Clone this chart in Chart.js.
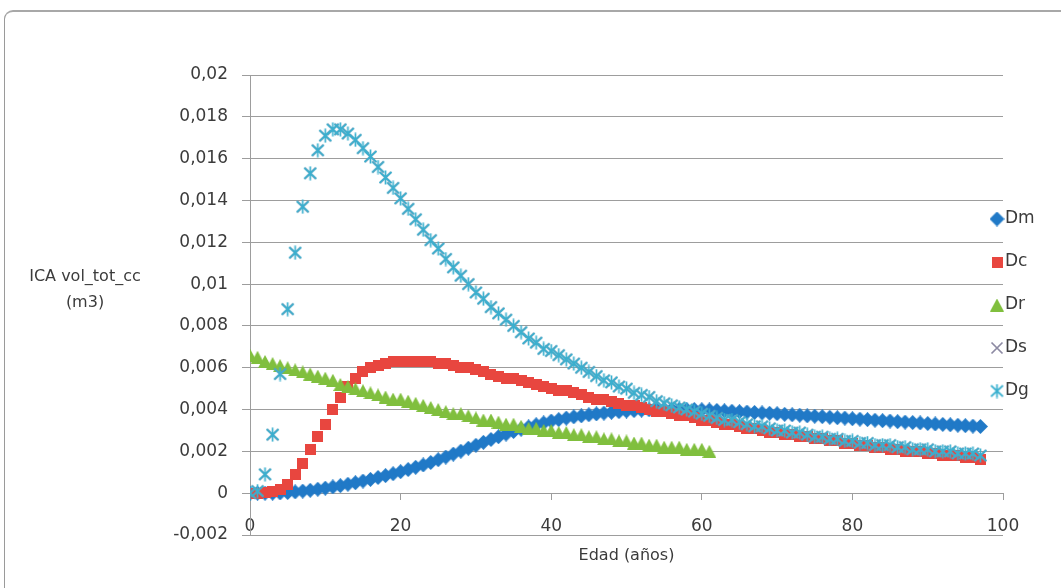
<!DOCTYPE html>
<html>
<head>
<meta charset="utf-8">
<title>ICA vol_tot_cc</title>
<script src="https://cdn.jsdelivr.net/npm/chart.js@4.4.0/dist/chart.umd.min.js"></script>
<style>
  html, body { margin: 0; padding: 0; background: #fff; }
  #wrap { position: relative; width: 1061px; height: 588px; overflow: hidden; background: #fff; }
  #frame {
    position: absolute; left: 4px; top: 10px; width: 1100px; height: 640px;
    border-top: 2px solid #a8a8a8; border-left: 1px solid #9a9a9a;
    border-top-left-radius: 9px;
  }
  #chart { position: absolute; left: 0; top: 0; }
</style>
</head>
<body>
<div id="wrap">
  <div id="frame"></div>
  <canvas id="chart" width="1061" height="588"></canvas>
</div>
<script>
// ages (años) used as x values
const ages = [
  0, 1, 2, 3, 4, 5, 6, 7, 8, 9, 10, 11, 12, 13, 14, 15, 16, 17, 18, 19,
  20, 21, 22, 23, 24, 25, 26, 27, 28, 29, 30, 31, 32, 33, 34, 35, 36, 37, 38, 39,
  40, 41, 42, 43, 44, 45, 46, 47, 48, 49, 50, 51, 52, 53, 54, 55, 56, 57, 58, 59,
  60, 61, 62, 63, 64, 65, 66, 67, 68, 69, 70, 71, 72, 73, 74, 75, 76, 77, 78, 79,
  80, 81, 82, 83, 84, 85, 86, 87, 88, 89, 90, 91, 92, 93, 94, 95, 96, 97
];

const dmValues = [
  0, 0, 0, 0, 0.00001, 0.00003, 0.00006, 0.0001, 0.00014, 0.00019,
  0.00024, 0.0003, 0.00036, 0.00043, 0.0005, 0.00058, 0.00066, 0.00075, 0.00084, 0.00093,
  0.00103, 0.00113, 0.00124, 0.00135, 0.00147, 0.0016, 0.00173, 0.00187, 0.00201, 0.00215,
  0.00229, 0.00243, 0.00257, 0.0027, 0.00283, 0.00295, 0.00306, 0.00317, 0.00327, 0.00336,
  0.00345, 0.00352, 0.00359, 0.00365, 0.0037, 0.00375, 0.00379, 0.00383, 0.00387, 0.0039,
  0.00393, 0.00395, 0.00397, 0.00399, 0.004, 0.00401, 0.00401, 0.00401, 0.004, 0.004,
  0.00399, 0.00398, 0.00396, 0.00394, 0.00392, 0.0039, 0.00388, 0.00386, 0.00384, 0.00382,
  0.0038, 0.00377, 0.00375, 0.00373, 0.0037, 0.00368, 0.00366, 0.00363, 0.00361, 0.00359,
  0.00356, 0.00354, 0.00352, 0.00349, 0.00347, 0.00345, 0.00342, 0.0034, 0.00338, 0.00336,
  0.00333, 0.00331, 0.00329, 0.00327, 0.00325, 0.00323, 0.00321, 0.00319
];

const dcValues = [
  0, 0, 0.00002, 0.0001, 0.0002, 0.0004, 0.0009, 0.0014, 0.0021, 0.0027,
  0.0033, 0.004, 0.0046, 0.0051, 0.0055, 0.0058, 0.006, 0.0061, 0.0062, 0.0063,
  0.0063, 0.0063, 0.0063, 0.0063, 0.0063, 0.0062, 0.0062, 0.0061, 0.006, 0.006,
  0.0059, 0.0058, 0.0057, 0.0056, 0.0055, 0.0055, 0.0054, 0.0053, 0.0052, 0.0051,
  0.005, 0.0049, 0.0049, 0.0048, 0.0047, 0.0046, 0.0045, 0.0045, 0.0044, 0.0043,
  0.0042, 0.0042, 0.0041, 0.004, 0.0039, 0.0039, 0.0038, 0.0037, 0.0037, 0.0036,
  0.0035, 0.0035, 0.0034, 0.0033, 0.0033, 0.0032, 0.0031, 0.0031, 0.003, 0.0029,
  0.0029, 0.0028, 0.0028, 0.0027, 0.0027, 0.0026, 0.0026, 0.0025, 0.0025, 0.0024,
  0.0024, 0.0023, 0.0023, 0.0022, 0.0022, 0.0021, 0.0021, 0.002, 0.002, 0.002,
  0.0019, 0.0019, 0.0018, 0.0018, 0.0018, 0.0017, 0.0017, 0.0016
];

// Dr stops at 61 años
const drValues = [
  0.0066, 0.0065, 0.0063, 0.0062, 0.0061, 0.006, 0.0059, 0.0058, 0.0057, 0.0056,
  0.0055, 0.0054, 0.0052, 0.0051, 0.005, 0.0049, 0.0048, 0.0047, 0.0046, 0.0045,
  0.0045, 0.0044, 0.0043, 0.0042, 0.0041, 0.004, 0.0039, 0.0038, 0.0038, 0.0037,
  0.0036, 0.0035, 0.0035, 0.0034, 0.0033, 0.0033, 0.0032, 0.0031, 0.0031, 0.003,
  0.003, 0.0029, 0.0029, 0.0028, 0.0028, 0.0027, 0.0027, 0.0026, 0.0026, 0.0025,
  0.0025, 0.0024, 0.0024, 0.0023, 0.0023, 0.0022, 0.0022, 0.0022, 0.0021, 0.0021,
  0.0021, 0.002
];

const dgValues = [
  0, 0.0001, 0.0009, 0.0028, 0.0057, 0.0088, 0.0115, 0.0137, 0.0153, 0.0164,
  0.0171, 0.0174, 0.0174, 0.0172, 0.0169, 0.0165, 0.0161, 0.0156, 0.0151, 0.0146,
  0.0141, 0.0136, 0.0131, 0.0126, 0.0121, 0.0117, 0.0112, 0.0108, 0.0104, 0.01,
  0.0096, 0.0093, 0.0089, 0.0086, 0.0083, 0.008, 0.0077, 0.0074, 0.0072, 0.0069,
  0.0068, 0.0066, 0.0064, 0.0062, 0.006, 0.0058, 0.0056, 0.0054, 0.0053, 0.0051,
  0.005, 0.0048, 0.0047, 0.0046, 0.0044, 0.0043, 0.0042, 0.0041, 0.004, 0.0039,
  0.0038, 0.0037, 0.0036, 0.0035, 0.0035, 0.0034, 0.0033, 0.0032, 0.0032, 0.0031,
  0.003, 0.003, 0.0029, 0.0029, 0.0028, 0.0027, 0.0027, 0.0026, 0.0026, 0.0025,
  0.0025, 0.0024, 0.0024, 0.0023, 0.0023, 0.0023, 0.0022, 0.0022, 0.0021, 0.0021,
  0.0021, 0.002, 0.002, 0.002, 0.0019, 0.0019, 0.0019, 0.0018
];

// Ds lies exactly underneath Dg in the picture (only its grey edges show)
const dsValues = dgValues;

const seriesNames = ['Dm', 'Dc', 'Dr', 'Ds', 'Dg'];
const yTickLabels = ['-0,002', '0', '0,002', '0,004', '0,006', '0,008', '0,01', '0,012', '0,014', '0,016', '0,018', '0,02'];
const xTickLabels = ['0', '20', '40', '60', '80', '100'];
const yTitleLines = ['ICA vol_tot_cc', '(m3)'];
const xTitle = 'Edad (años)';

const textColor = '#3b3b3b';
const gridColor = '#9d9d9d';
const fontFamily = '"DejaVu Sans", sans-serif';

// excel-like markers drawn once into small canvases
function makeMarker(shape, color) {
  const c = document.createElement('canvas');
  const g = c.getContext('2d');
  if (shape === 'diamond') {
    c.width = 15; c.height = 15;
    g.fillStyle = color;
    g.beginPath();
    g.moveTo(7.5, 0); g.lineTo(15, 7.5); g.lineTo(7.5, 15); g.lineTo(0, 7.5);
    g.closePath(); g.fill();
  } else if (shape === 'square') {
    c.width = 11; c.height = 11;
    g.fillStyle = color;
    g.fillRect(0, 0, 11, 11);
  } else if (shape === 'triangle') {
    c.width = 14; c.height = 13;
    g.fillStyle = color;
    g.beginPath();
    g.moveTo(7, 0); g.lineTo(14, 13); g.lineTo(0, 13);
    g.closePath(); g.fill();
  } else if (shape === 'x') {
    c.width = 14; c.height = 14;
    g.strokeStyle = color; g.lineWidth = 1.7;
    g.beginPath();
    g.moveTo(1.5, 1.5); g.lineTo(12.5, 12.5);
    g.moveTo(12.5, 1.5); g.lineTo(1.5, 12.5);
    g.stroke();
  } else {
    c.width = 15; c.height = 15;
    g.strokeStyle = color; g.lineWidth = 1.7;
    g.beginPath();
    g.moveTo(1.5, 2); g.lineTo(13.5, 13);
    g.moveTo(13.5, 2); g.lineTo(1.5, 13);
    g.moveTo(7.5, 0.5); g.lineTo(7.5, 14.5);
    g.stroke();
  }
  return c;
}

function toPoints(values) {
  return values.map((v, i) => ({ x: ages[i], y: v }));
}

const markers = [
  makeMarker('diamond', '#2079c7'),
  makeMarker('square', '#e8463f'),
  makeMarker('triangle', '#80bf3e'),
  makeMarker('x', '#8d8aa3'),
  makeMarker('star', '#3ab0cf')
];
const seriesValues = [dmValues, dcValues, drValues, dsValues, dgValues];

const datasets = seriesNames.map((name, i) => ({
  label: name,
  data: toPoints(seriesValues[i]),
  pointStyle: markers[i],
  pointRadius: 7,
  showLine: false,
  order: seriesNames.length - i // later series are painted on top, like excel
}));

// y title, x title and the legend on the right
const textLayer = {
  id: 'textLayer',
  afterDraw(chart) {
    const ctx = chart.ctx;
    const area = chart.chartArea;
    ctx.save();
    ctx.fillStyle = textColor;
    ctx.font = '16px ' + fontFamily;
    ctx.textAlign = 'center';
    ctx.textBaseline = 'middle';
    yTitleLines.forEach((t, i) => ctx.fillText(t, 85, 277 + i * 26));
    ctx.fillText(xTitle, (area.left + area.right) / 2, 556);

    ctx.font = '17px ' + fontFamily;
    ctx.textAlign = 'left';
    chart.data.datasets.forEach((ds, i) => {
      const y = 219 + i * 43;
      const m = ds.pointStyle;
      ctx.drawImage(m, 997 - m.width / 2, y - m.height / 2);
      ctx.fillText(ds.label, 1005, y);
    });
    ctx.restore();
  }
};

const ctx = document.getElementById('chart').getContext('2d');
new Chart(ctx, {
  type: 'scatter',
  data: { datasets },
  options: {
    responsive: false,
    animation: false,
    layout: { padding: { left: 0, right: 58, top: 75, bottom: 53 } },
    plugins: {
      legend: { display: false },
      tooltip: { enabled: false }
    },
    scales: {
      x: {
        type: 'linear',
        position: { y: 0 },
        min: 0,
        max: 100,
        ticks: {
          stepSize: 20,
          padding: 17,
          color: textColor,
          font: { family: fontFamily, size: 17 },
          callback: (v, i) => xTickLabels[i]
        },
        grid: { drawOnChartArea: false, drawTicks: true, tickLength: 6, color: gridColor },
        border: { display: true, color: gridColor }
      },
      y: {
        type: 'linear',
        min: -0.002,
        max: 0.02,
        afterFit: (scale) => { scale.width = 250; },
        ticks: {
          stepSize: 0.002,
          padding: 14,
          color: textColor,
          font: { family: fontFamily, size: 17 },
          callback: (v, i) => yTickLabels[i]
        },
        grid: { color: gridColor, tickLength: 8 },
        border: { display: true, color: gridColor }
      }
    }
  },
  plugins: [textLayer]
});
</script>
</body>
</html>
